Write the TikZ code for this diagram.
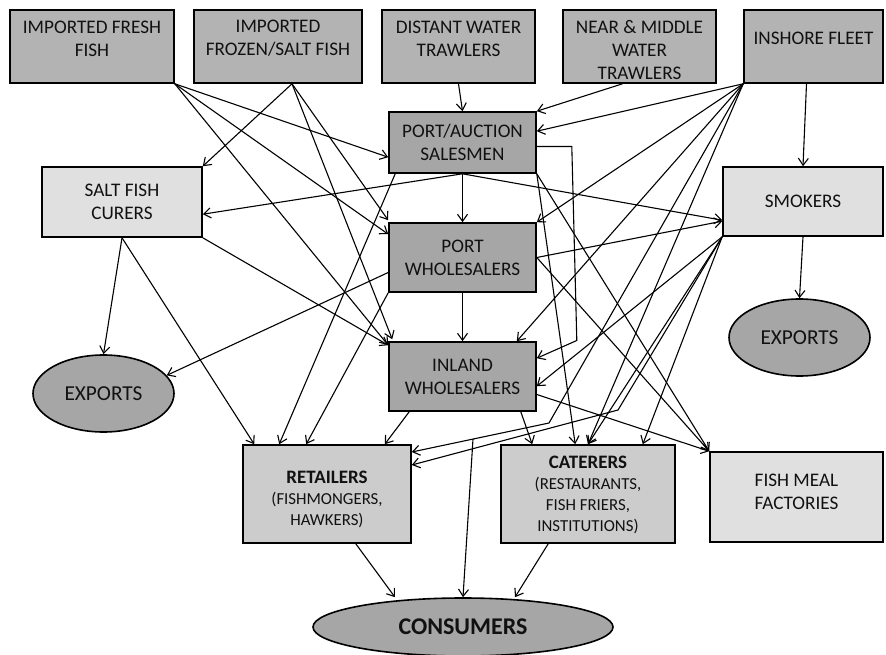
\documentclass[tikz,border=0pt]{standalone}
\usepackage{fontspec}
\setmainfont{Carlito}
\usetikzlibrary{arrows.meta,calc,shapes.geometric,backgrounds}
\definecolor{gtop}{HTML}{B3B3B3}
\definecolor{gmid}{HTML}{A6A6A6}
\definecolor{glight}{HTML}{E0E0E0}
\definecolor{gret}{HTML}{CCCCCC}
\definecolor{txtc}{HTML}{111111}
\begin{document}
\begin{tikzpicture}[x=1pt,y=-1pt,
  basebox/.style={draw, line width=1.6pt, inner sep=0pt, align=center, text=txtc,
    font=\fontsize{19.2}{23}\selectfont},
  topbox/.style={basebox, fill=gtop, minimum height=73pt},
  toptxt/.style={align=center, inner sep=0pt, text=txtc, font=\fontsize{19.2}{23}\selectfont},
  midbox/.style={basebox, fill=gmid, minimum width=147pt},
  lightbox/.style={basebox, fill=glight},
  retbox/.style={basebox, fill=gret, minimum height=98pt},
  rettxt/.style={align=center, inner sep=0pt, text=txtc, font=\fontsize{16.8}{21}\selectfont},
  ell/.style={ellipse, draw, line width=1.6pt, fill=gmid, inner sep=0pt, text=txtc,
    font=\fontsize{21.3}{24}\selectfont},
  arr/.style={line width=1.1pt, -{Straight Barb[length=7pt,width=10pt]}}
]
\useasboundingbox (0,0) rectangle (886,655);

% top row
\node[topbox, minimum width=164pt] (iff) at (92,46.5) {};
\node[toptxt] (ifft) at (92,38.5) {IMPORTED FRESH\\FISH};
\node[topbox, minimum width=168pt] (ifz) at (278,46.5) {};
\node[toptxt] (ifzt) at (278,38.5) {IMPORTED\\FROZEN/SALT FISH};
\node[topbox, minimum width=153pt] (dwt) at (458.5,46.5) {};
\node[toptxt] (dwtt) at (458.5,38.5) {DISTANT WATER\\TRAWLERS};
\node[topbox, minimum width=153pt] (nmw) at (639.5,46.5) {};
\node[toptxt] (nmwt) at (639.5,50) {NEAR \& MIDDLE\\WATER\\TRAWLERS};
\node[topbox, minimum width=139pt] (ins) at (813.5,46.5) {};
\node[toptxt] (inst) at (813.5,38) {INSHORE FLEET};

% middle column
\node[midbox, minimum height=61pt] (pas) at (462.5,142.5) {PORT/AUCTION\\SALESMEN};
\node[midbox, minimum height=69pt] (pw) at (462.5,257.5) {PORT\\WHOLESALERS};
\node[midbox, minimum height=69pt] (iw) at (462.5,376.5) {INLAND\\WHOLESALERS};

% side boxes
\node[lightbox, minimum width=160pt, minimum height=70pt] (sfc) at (122,202) {SALT FISH\\CURERS};
\node[lightbox, minimum width=160pt, minimum height=69pt] (smk) at (803,201.5) {SMOKERS};
\node[lightbox, minimum width=173pt, minimum height=90pt] (fmf) at (796.5,497) {};
\node[toptxt] (fmft) at (796.5,492) {FISH MEAL\\FACTORIES};

% exports
\node[ell, minimum width=141pt, minimum height=77pt] (expl) at (103.5,393.5) {EXPORTS};
\node[ell, minimum width=141pt, minimum height=77pt] (expr) at (799.5,337.5) {EXPORTS};

% retailers / caterers
\node[retbox, minimum width=168pt] (ret) at (327,494) {};
\node[rettxt] (rett) at (327,499)
  {{\fontsize{19}{21}\selectfont\bfseries RETAILERS}\\(FISHMONGERS,\\HAWKERS)};
\node[retbox, minimum width=174pt] (cat) at (588,494) {};
\node[rettxt] (catt) at (588,495)
  {{\fontsize{19}{21}\selectfont\bfseries CATERERS}\\(RESTAURANTS,\\FISH FRIERS,\\INSTITUTIONS)};

% consumers
\node[ell, minimum width=300pt, minimum height=58pt, font=\fontsize{24}{28}\selectfont\bfseries] (cons) at (463,627) {CONSUMERS};

\coordinate (e1) at (549,423);
\coordinate (e2) at (618,410);
\coordinate (b1) at (473,439);

\begin{pgfonlayer}{background}
\draw[arr] (dwt.south) -- (pas.north);
\draw[arr] ($(nmw.south)+(-17,0)$) -- (pas.north east);
\draw[arr] (ins.south west) -- ($(pas.north east)+(0,20)$);
\draw[arr] (iff.south east) -- ($(pas.north west)+(0,46)$);
\draw[arr] ($(ins.south)+(-7,0)$) -- (smk.north);
\draw[arr] ($(ifz.south)+(14,0)$) -- (sfc.north east);
\draw[arr] (pas.south) -- ($(sfc.north east)+(0,48)$);
\draw[arr] (pas.south) -- ($(smk.north west)+(0,54)$);
\draw[arr] (pas.south) -- (pw.north);
\draw[arr] ($(ifz.south)+(14,0)$) -- ($(pw.north west)+(0,-2)$);
\draw[arr] (iff.south east) -- ($(pw.north west)+(0,12)$);
\draw[arr] (ins.south west) -- (pw.north east);
\draw[arr] (iff.south east) -- ($(iw.north west)+(0,4)$);
\draw[arr] ($(ifz.south)+(14,0)$) -- ($(iw.north west)+(4,-2)$);
\draw[arr] (sfc.south east) -- ($(iw.north west)+(0,4)$);
\draw[arr] (ins.south west) -- ($(iw.north east)+(-20,0)$);
\draw[arr] ($(pas.east)+(0,4)$) -- ++(35,0) -- ++(5,194) -- ($(iw.north east)+(0,17)$);
\draw[arr] (smk.south west) -- ($(iw.north east)+(0,45)$);
\draw[arr] (pw.south) -- (iw.north);
\draw[arr] (pw.east) -- ($(smk.north west)+(0,55)$);
\draw[arr] (pw.east) -- (fmf.north west);
\draw[arr] ($(pw.west)+(0,15)$) -- (expl.16);
\draw[arr] (pw.south west) -- ($(ret.north west)+(64,0)$);
\draw[arr] ($(pas.south west)+(7,0)$) -- ($(ret.north west)+(37,0)$);
\draw[arr] (sfc.south) -- ($(ret.north west)+(12,0)$);
\draw[arr] (sfc.south) -- (expl.north);
\draw[arr] ($(iw.south west)+(21,0)$) -- ($(ret.north east)+(-27,0)$);
\draw[arr] ($(iw.south east)+(-16,0)$) -- ($(cat.north west)+(32,0)$);
\draw[arr] ($(iw.east)+(0,18)$) -- (fmf.north west);
\draw[arr] (pas.south east) -- ($(cat.north west)+(75,0)$);
\draw[arr] (pas.south east) -- (fmf.north west);
\draw[arr] (ins.south west) -- (cat.north);
\draw[arr] (smk.south west) -- (cat.north);
\draw[arr] (smk.south west) -- ($(cat.north east)+(-33,0)$);
\draw[arr] (smk.south west) -- (e2) -- ($(ret.east)+(0,-29)$);
\draw[arr] (ins.south west) -- (e1) -- ($(ret.east)+(0,-42)$);
\draw[arr] (b1) -- (cons.north);
\draw[arr] (smk.south) -- (expr.north);
\draw[arr] ($(ret.south east)+(-56,0)$) -- ($(cons.north)+(-68,0)$);
\draw[arr] ($(cat.south west)+(48,0)$) -- ($(cons.north)+(52,0)$);
\end{pgfonlayer}
\end{tikzpicture}
\end{document}
